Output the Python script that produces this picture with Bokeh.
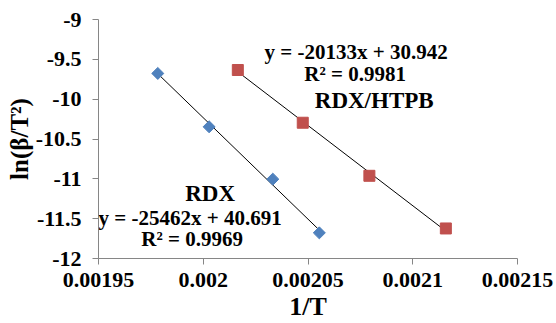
from bokeh.plotting import figure
from bokeh.models import FixedTicker, Label, Range1d
from bokeh.embed import file_html
from bokeh.resources import INLINE
import numpy as np

# Data
rdx_x = [0.0019783, 0.0020028, 0.0020332, 0.0020554]
rdx_y = [-9.677, -10.347, -11.004, -11.678]
htpb_x = [0.0020165, 0.0020475, 0.0020793, 0.0021158]
htpb_y = [-9.634, -10.296, -10.962, -11.623]

rdx_slope, rdx_intercept = -25462, 40.691
htpb_slope, htpb_intercept = -20133, 30.942

x_ticks = [0.00195, 0.002, 0.00205, 0.0021, 0.00215]
x_tick_labels = ["0.00195", "0.002", "0.00205", "0.0021", "0.00215"]
y_ticks = [-9, -9.5, -10, -10.5, -11, -11.5, -12]
y_tick_labels = ["-9", "-9.5", "-10", "-10.5", "-11", "-11.5", "-12"]

FONT = "Liberation Serif"

p = figure(width=556, height=323, output_backend="svg", toolbar_location=None,
           x_range=Range1d(0.00195, 0.00215), y_range=Range1d(-12, -9),
           min_border_left=98, min_border_right=39, min_border_top=19, min_border_bottom=65)
p.outline_line_color = None
p.grid.visible = False

# trend lines
for xs, sl, ic in [(rdx_x, rdx_slope, rdx_intercept), (htpb_x, htpb_slope, htpb_intercept)]:
    lx = np.array([min(xs), max(xs)])
    p.line(lx, sl * lx + ic, line_color="black", line_width=1)

p.scatter(rdx_x, rdx_y, marker="square", size=8.5, angle=np.pi / 4,
          fill_color="#4F81BD", line_color="#4F81BD")
p.scatter(htpb_x, htpb_y, marker="square", size=11,
          fill_color="#C0504D", line_color="#C0504D")

for ax in (p.xaxis[0], p.yaxis[0]):
    ax.axis_line_color = "#868686"
    ax.major_tick_line_color = "#868686"
    ax.minor_tick_line_color = None
    ax.major_tick_out = 6
    ax.major_tick_in = 0
    ax.major_label_text_font = FONT
    ax.major_label_text_font_style = "bold"
    ax.major_label_text_font_size = "22px"
    ax.major_label_text_color = "black"
    ax.axis_label_text_font = FONT
    ax.axis_label_text_font_style = "bold"
    ax.axis_label_text_color = "black"

p.xaxis.axis_label_text_font_size = "26px"
p.yaxis.axis_label_text_font_size = "25px"
p.xaxis.ticker = FixedTicker(ticks=x_ticks)
p.xaxis.major_label_overrides = dict(zip(x_ticks, x_tick_labels))
p.yaxis.ticker = FixedTicker(ticks=y_ticks)
p.yaxis.major_label_overrides = dict(zip(y_ticks, y_tick_labels))
p.xaxis.axis_label = "1/T"
p.yaxis.axis_label = "ln(β/T²)"
p.xaxis.major_label_standoff = 8
p.yaxis.major_label_standoff = 11
p.xaxis.axis_label_standoff = 2
p.yaxis.axis_label_standoff = 0

labels = [
    ("RDX", 0.0020033, -11.182, "23px"),
    (f"y = {rdx_slope}x + {rdx_intercept}", 0.0019937, -11.497, "21px"),
    ("R² = 0.9969", 0.0019947, -11.761, "21px"),
    (f"y = {htpb_slope}x + {htpb_intercept}", 0.0020730, -9.409, "21px"),
    ("R² = 0.9981", 0.0020725, -9.686, "21px"),
    ("RDX/HTPB", 0.0020816, -10.013, "23px"),
]
for t, x, y, fs in labels:
    p.add_layout(Label(x=x, y=y, text=t, text_align="center", text_baseline="middle",
                       text_font=FONT, text_font_style="bold", text_font_size=fs,
                       text_color="black"))

open("out.html", "w").write(file_html(p, INLINE))
